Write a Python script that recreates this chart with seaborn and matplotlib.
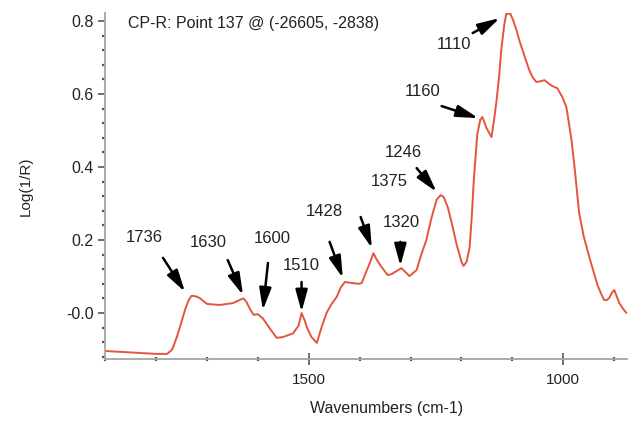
import matplotlib
matplotlib.use("Agg")
import matplotlib.pyplot as plt
import seaborn as sns
import numpy as np
import pandas as pd
from matplotlib.ticker import MultipleLocator, FixedLocator

# ---- data ----
wavenumber = [1900, 1850, 1800, 1778, 1768, 1759, 1751, 1743, 1736, 1730, 1722, 1714, 1700, 1675, 1649,
              1632, 1628, 1622, 1615, 1608, 1600, 1590, 1575, 1563, 1551, 1531, 1520, 1514, 1508, 1504,
              1495, 1484, 1475, 1465, 1455, 1445, 1437, 1429, 1414, 1402, 1396, 1388, 1380, 1373, 1366,
              1357, 1345, 1338, 1331, 1318, 1310, 1302, 1288, 1279, 1269, 1259, 1249, 1241, 1235, 1227,
              1218, 1210, 1200, 1196, 1190, 1184, 1180, 1176, 1169, 1163, 1159, 1151, 1141, 1136, 1131,
              1126, 1122, 1116, 1112, 1104, 1098, 1092, 1086, 1080, 1073, 1067, 1060, 1053, 1045, 1037,
              1030, 1022, 1012, 1002, 994, 989, 984, 978, 973, 969, 960, 949, 940, 933, 925,
              920, 915, 910, 905, 900, 895, 890, 883, 876]
log_1_r = [-0.104, -0.108, -0.112, -0.112, -0.100, -0.066, -0.030, 0.008, 0.035, 0.047, 0.046, 0.041, 0.025, 0.022, 0.027,
           0.038, 0.040, 0.030, 0.010, -0.005, -0.003, -0.015, -0.045, -0.068, -0.066, -0.056, -0.035, 0.000, -0.020, -0.038,
           -0.065, -0.082, -0.040, 0.000, 0.025, 0.044, 0.070, 0.085, 0.082, 0.080, 0.082, 0.110, 0.137, 0.164, 0.145,
           0.126, 0.104, 0.106, 0.112, 0.123, 0.112, 0.101, 0.118, 0.160, 0.200, 0.260, 0.310, 0.323, 0.318, 0.290,
           0.240, 0.190, 0.140, 0.129, 0.140, 0.180, 0.260, 0.360, 0.490, 0.530, 0.537, 0.507, 0.482, 0.530, 0.584,
           0.650, 0.720, 0.790, 0.820, 0.820, 0.800, 0.775, 0.745, 0.720, 0.690, 0.666, 0.645, 0.633, 0.635, 0.638,
           0.630, 0.622, 0.616, 0.592, 0.564, 0.520, 0.474, 0.400, 0.330, 0.274, 0.210, 0.153, 0.110, 0.077, 0.050,
           0.036, 0.035, 0.041, 0.055, 0.063, 0.045, 0.027, 0.012, 0.000]

peak_labels = ["1736", "1630", "1600", "1510", "1428", "1375", "1320", "1246", "1160", "1110"]
y_tick_values = [0.8, 0.6, 0.4, 0.2, 0.0]
y_tick_labels = ["0.8", "0.6", "0.4", "0.2", "-0.0"]
x_tick_values = [1500, 1000]
x_tick_labels = ["1500", "1000"]

# ---- layout for annotations (data coords): text pos, arrow tail, arrow tip ----
text_pos = [(1822, 0.208), (1698, 0.192), (1571, 0.203), (1514, 0.129), (1469, 0.279),
            (1341, 0.359), (1318, 0.247), (1314, 0.441), (1276, 0.608), (1214, 0.737)]
arrow_tail = [(1786, 0.151), (1659, 0.145), (1580, 0.137), (1514, 0.085), (1459, 0.195),
              (1398, 0.263), (1320, 0.195), (1288, 0.397), (1239, 0.567), (1178, 0.767)]
arrow_tip = [(1743, 0.058), (1629, 0.049), (1590, 0.008), (1514, 0.003), (1433, 0.096),
             (1376, 0.178), (1320, 0.129), (1249, 0.332), (1167, 0.534), (1125, 0.808)]

sns.set_theme(style="white")
plt.rcParams["font.family"] = ["Liberation Sans", "DejaVu Sans"]

W, H = 628, 421
fig = plt.figure(figsize=(W / 100, H / 100), dpi=100)
ax = fig.add_axes([105 / W, 1 - 359 / H, 522 / W, 346 / H])

df = pd.DataFrame({"Wavenumber": wavenumber, "Log(1/R)": log_1_r})
sns.lineplot(data=df, x="Wavenumber", y="Log(1/R)", ax=ax, color="#e4553d", lw=1.4,
             estimator=None, sort=True)

ax.set_xlim(1900, 875)
ax.set_ylim(-0.126, 0.822)

for s in ["top", "right"]:
    ax.spines[s].set_visible(False)
for s in ["left", "bottom"]:
    ax.spines[s].set_color("#a8a4a0")
    ax.spines[s].set_linewidth(1.3)

ax.yaxis.set_major_locator(FixedLocator(y_tick_values))
ax.set_yticklabels(y_tick_labels)
ax.yaxis.set_minor_locator(MultipleLocator(0.04))
ax.xaxis.set_major_locator(FixedLocator(x_tick_values))
ax.set_xticklabels(x_tick_labels)
ax.xaxis.set_minor_locator(MultipleLocator(100))

ax.tick_params(axis="y", which="major", direction="out", length=5, width=1.2, color="#555555",
               left=True, labelsize=11.5, labelcolor="#222222", pad=3)
ax.tick_params(axis="y", which="minor", direction="out", length=2, width=1.6, color="#555555", left=True)
ax.tick_params(axis="x", which="major", direction="inout", length=8, width=1.2, color="#555555",
               bottom=True, labelsize=11, labelcolor="#222222", pad=6)
ax.tick_params(axis="x", which="minor", direction="inout", length=3, width=1.6, color="#555555", bottom=True)

ax.set_xlabel("")
ax.set_ylabel("")
fig.text(26 / W, 1 - 186 / H, "Log(1/R)", rotation=90, ha="center", va="center",
         fontsize=11, color="#222222")
fig.text(387 / W, 1 - 408 / H, "Wavenumbers (cm-1)", ha="center", va="center",
         fontsize=11.5, color="#222222")

ax.text(0.044, 0.971, "CP-R: Point 137 @ (-26605, -2838)", transform=ax.transAxes,
        ha="left", va="center", fontsize=11.5, color="#222222")

for lab, tp, tail, tip in zip(peak_labels, text_pos, arrow_tail, arrow_tip):
    ax.text(tp[0], tp[1], lab, ha="center", va="center", fontsize=12, color="#222222")
    ax.annotate("", xy=tip, xytext=tail,
                arrowprops=dict(arrowstyle="-|>,head_length=1.1,head_width=0.3",
                                color="black", lw=1.8, shrinkA=0, shrinkB=0))

fig.savefig("out.png", dpi=100, facecolor="white")
